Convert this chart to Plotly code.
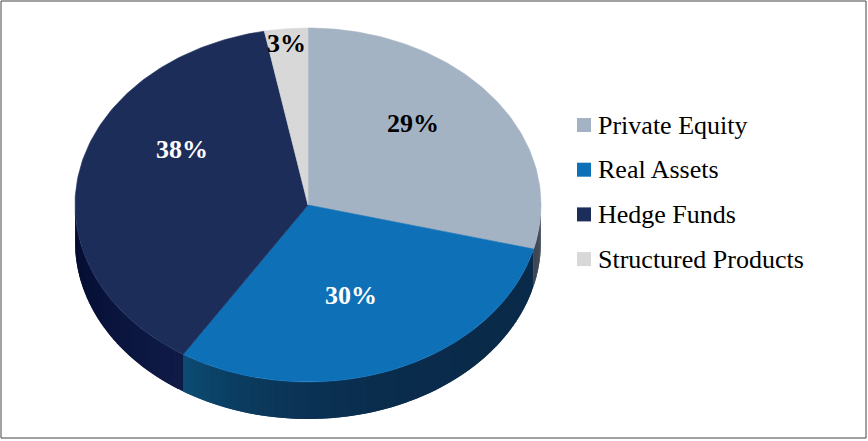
import numpy as np
import plotly.graph_objects as go

# ---- data ----
categories = ["Private Equity", "Real Assets", "Hedge Funds", "Structured Products"]
values = [29, 30, 38, 3]

# ---- styles ----
top_colors = ["#a3b3c4", "#0e71b8", "#1c2d5a", "#d8d8d8"]
side_colors = [("#4a5562", "#3c4652"), ("#0a2a4a", "#0c4c74"),
               ("#0f1b47", "#030b2e"), ("#8a8a8a", "#7a7a7a")]
side_power = [1.0, 4.0, 1.0, 1.0]
label_colors = ["black", "white", "white", "black"]
label_frac = [0.57, 0.50, 0.55, 1.0]
label_dy = [-20, 8, -37, 15]

W, H = 868, 441
cx, cy, rx, ry, depth = 308, 205, 233, 177, 37
FONT = "Liberation Serif, Times New Roman, serif"


def hex2rgb(h):
    h = h.lstrip("#")
    return np.array([int(h[i:i + 2], 16) for i in (0, 2, 4)], float)


def mix(c0, c1, t):
    a, b = hex2rgb(c0), hex2rgb(c1)
    c = a + (b - a) * t
    return "rgb(%d,%d,%d)" % tuple(np.round(c))


def ell(theta_deg, dy=0.0):
    t = np.radians(theta_deg)
    return cx + rx * np.sin(t), cy - ry * np.cos(t) + dy


total = float(sum(values))
bounds = np.concatenate([[0.0], np.cumsum(values) / total * 360.0])

fig = go.Figure()

# ---- side walls (visible lower half: 90..270 deg) ----
for i in range(len(values)):
    a0, a1 = max(bounds[i], 90.0), min(bounds[i + 1], 270.0)
    if a1 <= a0:
        continue
    n = max(2, int((a1 - a0) / 1.5))
    edges = np.linspace(a0, a1, n + 1)
    for k in range(n):
        s0 = edges[k]
        s1 = min(edges[k + 1] + 1.5, a1)
        th = np.linspace(s0, s1, 6)
        xt, yt = ell(th)
        xb, yb = ell(th[::-1], depth)
        tmid = (max(0.0, min(1.0, ((edges[k] + edges[k + 1]) / 2 - a0) / (a1 - a0)))) ** side_power[i]
        col = mix(side_colors[i][0], side_colors[i][1], tmid)
        fig.add_trace(go.Scatter(
            x=np.concatenate([xt, xb, xt[:1]]), y=np.concatenate([yt, yb, yt[:1]]),
            mode="lines", fill="toself", fillcolor=col,
            line=dict(color=col, width=0), hoverinfo="skip", showlegend=False))

# ---- top face slices ----
for i in range(len(values)):
    th = np.linspace(bounds[i], bounds[i + 1], max(3, int(bounds[i + 1] - bounds[i]) + 2))
    xa, ya = ell(th)
    fig.add_trace(go.Scatter(
        x=np.concatenate([[cx], xa, [cx]]), y=np.concatenate([[cy], ya, [cy]]),
        mode="lines", fill="toself", fillcolor=top_colors[i],
        line=dict(color=top_colors[i], width=0.6),
        name=categories[i], hoverinfo="name", showlegend=False))

# ---- percentage labels ----
for i in range(len(values)):
    mid = (bounds[i] + bounds[i + 1]) / 2
    t = np.radians(mid)
    lx = cx + rx * label_frac[i] * np.sin(t)
    ly = cy - ry * label_frac[i] * np.cos(t) + label_dy[i]
    fig.add_annotation(x=lx, y=ly, text="<b>%d%%</b>" % values[i], showarrow=False,
                       font=dict(family=FONT, size=26, color=label_colors[i]),
                       xanchor="center", yanchor="middle")

# ---- legend (manual) ----
leg_x, leg_y0, leg_gap = 584, 125, 44.7
leg_y = [leg_y0 + k * leg_gap for k in range(len(categories))]
fig.add_trace(go.Scatter(
    x=[leg_x] * len(categories), y=leg_y, mode="markers",
    marker=dict(symbol="square", size=14, color=top_colors, line=dict(width=0)),
    hoverinfo="skip", showlegend=False))
for k, name in enumerate(categories):
    fig.add_annotation(x=leg_x + 12, y=leg_y[k], text=name, showarrow=False,
                       font=dict(family=FONT, size=26, color="black"),
                       xanchor="left", yanchor="middle")

# ---- frame ----
fig.add_shape(type="rect", x0=1, y0=1, x1=866, y1=438,
              line=dict(color="#444444", width=1), fillcolor="rgba(0,0,0,0)")

fig.update_layout(
    width=W, height=H, autosize=False,
    margin=dict(l=0, r=0, t=0, b=0),
    paper_bgcolor="white", plot_bgcolor="white",
    xaxis=dict(range=[0, W], visible=False, fixedrange=True),
    yaxis=dict(range=[H, 0], visible=False, fixedrange=True),
    showlegend=False,
)

fig.write_html("out.html")
